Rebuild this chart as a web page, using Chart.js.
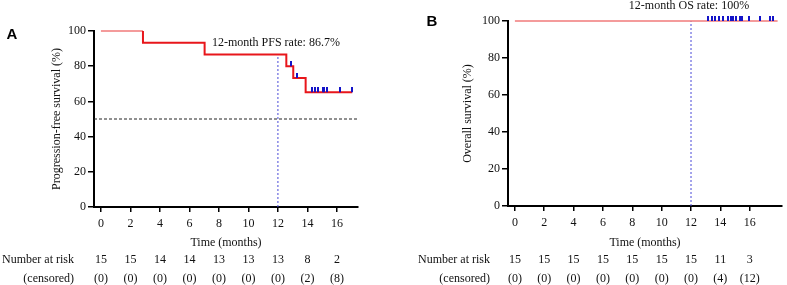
<!DOCTYPE html>
<html>
<head>
<meta charset="utf-8">
<script src="https://cdn.jsdelivr.net/npm/chart.js@4/dist/chart.umd.min.js"></script>
<style>
html,body{margin:0;padding:0;background:#fff;}
#wrap{position:relative;width:787px;height:285px;overflow:hidden;}
canvas{position:absolute;top:0;}
#cA{left:0;}
#cB{left:400px;}
</style>
</head>
<body>
<div id="wrap">
<canvas id="cA" width="400" height="285"></canvas>
<canvas id="cB" width="387" height="285"></canvas>
</div>
<script>
// ---------- data ----------
const timeTicks = [0, 2, 4, 6, 8, 10, 12, 14, 16];

const pfsTimes = [0, 2.85, 7.03, 12.57, 13.04, 13.88, 17.04];
const pfsSurvival = [100, 93.3, 86.7, 80.0, 73.3, 65.2, 65.2];
const pfsCensorTimes = [12.9, 13.32, 14.3, 14.5, 14.7, 15.05, 15.15, 15.3, 16.2, 17.0];
const pfsCensorSurvival = [80.0, 73.3, 65.2, 65.2, 65.2, 65.2, 65.2, 65.2, 65.2, 65.2];
const pfsAtRisk = [15, 15, 14, 14, 13, 13, 13, 8, 2];
const pfsCensored = [0, 0, 0, 0, 0, 0, 0, 2, 8];
const pfsRateText = "12-month PFS rate: 86.7%";
const pfsRateAt12 = 86.7;

const osTimes = [0, 17.9];
const osSurvival = [100, 100];
const osCensorTimes = [13.15, 13.4, 13.65, 13.9, 14.15, 14.5, 14.7, 14.85, 15.06, 15.33, 15.5, 15.95, 16.7, 17.4, 17.6];
const osCensorSurvival = [100, 100, 100, 100, 100, 100, 100, 100, 100, 100, 100, 100, 100, 100, 100];
const osAtRisk = [15, 15, 15, 15, 15, 15, 15, 11, 3];
const osCensored = [0, 0, 0, 0, 0, 0, 0, 4, 12];
const osRateText = "12-month OS rate: 100%";
const osRateAt12 = 100;

const landmarkMonth = 12;
const medianLevel = 50;
const yTicks = [0, 20, 40, 60, 80, 100];

// ---------- helpers ----------
const SERIF = "'Liberation Serif', 'Times New Roman', serif";
Chart.defaults.font.family = SERIF;
Chart.defaults.font.size = 12;
Chart.defaults.color = '#111';

function zip(xs, ys) { return xs.map((x, i) => ({x: x, y: ys[i]})); }
// Kaplan-Meier step path built from (time, survival) pairs
function kmSteps(ts, ss) {
  const pts = [{x: ts[0], y: ss[0]}];
  for (let i = 1; i < ts.length; i++) {
    pts.push({x: ts[i], y: ss[i - 1]});
    if (ss[i] !== ss[i - 1]) pts.push({x: ts[i], y: ss[i]});
  }
  return pts;
}

function censorMark() {
  const c = document.createElement('canvas');
  c.width = 2; c.height = 10;
  const g = c.getContext('2d');
  g.fillStyle = '#1414c8';
  g.fillRect(0, 0, 2, 5);
  return c;
}
const mark = censorMark();

function makeChart(id, cfg) {
  const plug = {
    id: 'extras',
    afterDraw(chart) {
      const ctx = chart.ctx;
      const xs = chart.scales.x;
      ctx.save();
      ctx.font = "bold 15px 'Liberation Sans', Arial, sans-serif";
      ctx.fillStyle = '#000';
      ctx.textAlign = 'center';
      ctx.textBaseline = 'middle';
      ctx.fillText(cfg.letter, cfg.letterX, cfg.letterY);
      ctx.font = '12px ' + SERIF;
      ctx.fillStyle = '#111';
      ctx.fillText(cfg.rateText, xs.getPixelForValue(landmarkMonth) - 2, cfg.rateY);
      ctx.textAlign = 'right';
      ctx.fillText('Number at risk', cfg.tableLabelX, 260);
      ctx.fillText('(censored)', cfg.tableLabelX, 279);
      ctx.textAlign = 'center';
      timeTicks.forEach((t, i) => {
        const px = xs.getPixelForValue(t);
        ctx.fillText(String(cfg.atRisk[i]), px, 260);
        ctx.fillText('(' + cfg.censored[i] + ')', px, 279);
      });
      ctx.restore();
    }
  };

  const datasets = [
    {
      data: zip(cfg.censorTimes, cfg.censorSurv),
      showLine: false,
      pointStyle: mark,
      pointRadius: 3,
      clip: false
    },
    {
      data: kmSteps(cfg.times, cfg.surv),
      borderColor: '#e8161b',
      borderWidth: 2,
      pointRadius: 0,
      clip: false,
      segment: {
        borderColor: c => (c.p0.parsed.y >= 100 && c.p1.parsed.y >= 100) ? '#f07a7a' : undefined,
        borderWidth: c => (c.p0.parsed.y >= 100 && c.p1.parsed.y >= 100) ? 1.3 : undefined
      }
    },
    {
      data: [{x: landmarkMonth, y: 0}, {x: landmarkMonth, y: cfg.rateAt12}],
      borderColor: '#4a4ad8',
      borderWidth: 1,
      borderDash: [2, 2],
      pointRadius: 0,
      clip: false
    }
  ];
  if (cfg.median) {
    datasets.push({
      data: [{x: cfg.xMin, y: medianLevel}, {x: 17.5, y: medianLevel}],
      borderColor: '#222',
      borderWidth: 1,
      borderDash: [3, 2],
      pointRadius: 0,
      clip: false
    });
  }

  return new Chart(document.getElementById(id), {
    type: 'line',
    data: {datasets: datasets},
    options: {
      responsive: false,
      devicePixelRatio: 1,
      animation: false,
      events: [],
      layout: {padding: {left: 0, right: cfg.padRight, top: cfg.padTop, bottom: 0}},
      plugins: {legend: {display: false}, tooltip: {enabled: false}},
      scales: {
        x: {
          type: 'linear',
          min: cfg.xMin,
          max: cfg.xMax,
          afterBuildTicks(s) { s.ticks = timeTicks.map(v => ({value: v})); },
          afterFit(s) { s.height = 285 - cfg.chartBottom; },
          ticks: {autoSkip: false, maxRotation: 0, padding: 5, color: '#111', font: {size: 12}},
          grid: {drawOnChartArea: false, drawTicks: true, tickLength: 5, color: '#000', lineWidth: 1.5},
          border: {color: '#000', width: 2},
          title: {display: true, text: 'Time (months)', color: '#111', font: {size: 12}, padding: {top: 0, bottom: 35}}
        },
        y: {
          type: 'linear',
          min: 0,
          max: 100,
          afterBuildTicks(s) { s.ticks = yTicks.map(v => ({value: v})); },
          afterFit(s) { s.width = cfg.yWidth; },
          ticks: {padding: 2, color: '#111', font: {size: 12}},
          grid: {drawOnChartArea: false, drawTicks: true, tickLength: 6, color: '#000', lineWidth: 1.5},
          border: {color: '#000', width: 2},
          title: {display: true, text: cfg.yTitle, color: '#111', font: {size: 12}, padding: {top: cfg.yTitlePad, bottom: 0}}
        }
      }
    },
    plugins: [plug]
  });
}

makeChart('cA', {
  letter: 'A', letterX: 12, letterY: 35,
  rateText: pfsRateText, rateY: 43, rateAt12: pfsRateAt12,
  tableLabelX: 74,
  atRisk: pfsAtRisk, censored: pfsCensored,
  times: pfsTimes, surv: pfsSurvival,
  censorTimes: pfsCensorTimes, censorSurv: pfsCensorSurvival,
  median: true,
  xMin: -0.47, xMax: 17.43,
  padRight: 42, padTop: 31, chartBottom: 207,
  yWidth: 94, yTitle: 'Progression-free survival (%)', yTitlePad: 50
});

makeChart('cB', {
  letter: 'B', letterX: 32, letterY: 22,
  rateText: osRateText, rateY: 6, rateAt12: osRateAt12,
  tableLabelX: 90,
  atRisk: osAtRisk, censored: osCensored,
  times: osTimes, surv: osSurvival,
  censorTimes: osCensorTimes, censorSurv: osCensorSurvival,
  median: false,
  xMin: -0.47, xMax: 18.2,
  padRight: 0, padTop: 21, chartBottom: 206,
  yWidth: 108, yTitle: 'Overall survival (%)', yTitlePad: 61
});
</script>
</body>
</html>
